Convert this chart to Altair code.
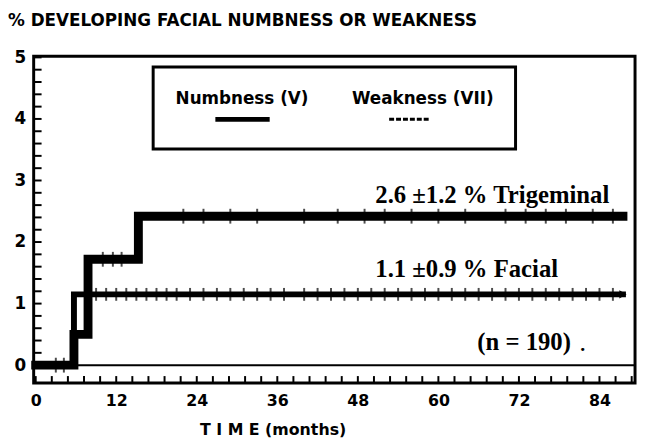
import altair as alt
import pandas as pd

# Kaplan-Meier style step curves (months, %)
num_t = [0, 5.7, 7.8, 15.3, 87.5]
num_v = [0, 0.5, 1.72, 2.42, 2.42]
fac_t = [0, 5.7, 87.5]
fac_v = [0, 1.15, 1.15]

# censoring marks (months)
num_censor = [3, 4.2, 10, 11.5, 12.8, 22, 25, 29, 33, 40, 45, 49, 52, 56, 60, 64, 70, 73, 76, 79, 83, 86]
fac_censor = [9, 10.5, 12, 13.5, 15, 16.5, 18, 19.5, 21, 23, 25, 27, 29, 31, 33, 35, 37, 40, 42, 44,
              46, 48, 50, 52, 54, 56, 58, 60, 62, 64, 66, 68, 70, 72, 74, 76, 78, 80, 82, 84, 86]

y_labels = [0, 1, 2, 3, 4, 5]
x_labels = [0, 12, 24, 36, 48, 60, 72, 84]
y_minor = [round(i * 0.2, 1) for i in range(0, 26)]
x_minor = [round(i * 2.4, 1) for i in range(0, 38)]

title = "% DEVELOPING FACIAL NUMBNESS OR WEAKNESS"
ann = pd.DataFrame({
    "t": [50.6, 50.6, 65.8],
    "v": [2.77, 1.56, 0.38],
    "label": ["2.6 \u00b11.2 % Trigeminal", "1.1 \u00b10.9 % Facial", "(n = 190)"],
})

W, H = 609, 331
xs = alt.Scale(domain=[-0.3, 89.3], nice=False, zero=False)
ys = alt.Scale(domain=[-0.29, 5.02], nice=False, zero=False)

num_df = pd.DataFrame({"t": num_t, "v": num_v})
fac_df = pd.DataFrame({"t": fac_t, "v": fac_v})
one = pd.DataFrame({"a": [0]})

x_enc = alt.X("t:Q", scale=xs, axis=alt.Axis(
    values=x_labels, title="T I M E (months)", grid=False, domain=False, ticks=False, format="d",
    labelFont="DejaVu Sans", labelFontWeight="bold", labelFontSize=16, labelPadding=10,
    labelColor="black", titleFont="DejaVu Sans", titleFontWeight="bold", titleFontSize=16,
    titleColor="black", titleX=242, titleY=47, titleBaseline="middle", titleAnchor="middle"))
y_enc = alt.Y("v:Q", scale=ys, axis=alt.Axis(
    values=y_labels, title=None, grid=False, domain=False, ticks=False, format="d",
    labelFont="DejaVu Sans", labelFontWeight="bold", labelFontSize=17, labelPadding=8,
    labelColor="black"))

zero_line = alt.Chart(one).mark_rule(color="black", strokeWidth=2).encode(
    y=alt.Y("z:Q", scale=ys), x=alt.value(0), x2=alt.value(W)
).transform_calculate(z="0")

yt = pd.DataFrame({"v": y_minor})
y_ticks = alt.Chart(yt).mark_rule(color="black", strokeWidth=2).encode(
    y=alt.Y("v:Q", scale=ys), x=alt.value(0), x2=alt.value(8))

xt = pd.DataFrame({"t": [t for t in x_minor if t < 89]})
x_ticks = alt.Chart(xt).mark_rule(color="black", strokeWidth=2).encode(
    x=alt.X("t:Q", scale=xs), y=alt.value(H), y2=alt.value(H - 7))

num_line = alt.Chart(num_df).mark_line(color="black", strokeWidth=9, interpolate="step-after",
                                       strokeCap="square").encode(x=x_enc, y=y_enc)
fac_line = alt.Chart(fac_df).mark_line(color="black", strokeWidth=6, interpolate="step-after",
                                       strokeCap="square").encode(x=alt.X("t:Q", scale=xs), y=alt.Y("v:Q", scale=ys))

num_c = alt.Chart(pd.DataFrame({"t": num_censor, "v": [0 if t < 5.7 else (1.72 if t < 15.3 else 2.42) for t in num_censor]})
                  ).mark_tick(orient="vertical", color="black", size=15, thickness=2).encode(
    x=alt.X("t:Q", scale=xs), y=alt.Y("v:Q", scale=ys))
fac_c = alt.Chart(pd.DataFrame({"t": fac_censor, "v": [1.15] * len(fac_censor)})
                  ).mark_tick(orient="vertical", color="black", size=13, thickness=2).encode(
    x=alt.X("t:Q", scale=xs), y=alt.Y("v:Q", scale=ys))

ends = alt.Chart(pd.DataFrame({"t": [87.5, 87.5], "v": [2.42, 1.15]})).mark_point(
    shape="triangle-right", filled=True, color="black", size=70, opacity=1).encode(
    x=alt.X("t:Q", scale=xs), y=alt.Y("v:Q", scale=ys))

ann_text = alt.Chart(ann).mark_text(align="left", baseline="middle", font="Liberation Serif",
                                    fontWeight="bold", fontSize=25, color="black").encode(
    x=alt.X("t:Q", scale=xs), y=alt.Y("v:Q", scale=ys), text="label:N")

dot = alt.Chart(one).mark_text(text=".", font="Liberation Serif", fontWeight="bold", fontSize=20,
                               color="black").encode(x=alt.value(556), y=alt.value(293))

# legend box
box = alt.Chart(one).mark_rect(fill="white", stroke="black", strokeWidth=3).encode(
    x=alt.value(121), x2=alt.value(488), y=alt.value(11), y2=alt.value(94))
leg_txt = alt.Chart(pd.DataFrame({"lab": ["Numbness (V)", "Weakness (VII)"], "px": [211, 394]})).mark_text(
    font="DejaVu Sans", fontWeight="bold", fontSize=17, color="black", baseline="middle").encode(
    x=alt.X("px:Q", scale=None), y=alt.value(43), text="lab:N")
leg_num = alt.Chart(one).mark_rule(color="black", strokeWidth=5).encode(
    x=alt.value(184), x2=alt.value(239), y=alt.value(64))
leg_fac = alt.Chart(one).mark_rule(color="black", strokeWidth=3, strokeDash=[5, 2]).encode(
    x=alt.value(360), x2=alt.value(402), y=alt.value(64))

title_txt = alt.Chart(one).mark_text(text=title, align="left", baseline="middle", font="DejaVu Sans",
                                     fontWeight="bold", fontSize=17, color="black").encode(
    x=alt.value(-26), y=alt.value(-36))

chart = alt.layer(
    num_line, zero_line, fac_line, num_c, fac_c, ends, y_ticks, x_ticks,
    ann_text, dot, box, leg_txt, leg_num, leg_fac, title_txt
).properties(
    width=W, height=H, autosize=alt.AutoSizeParams(type="none"),
    padding={"left": 26, "top": 46, "right": 3, "bottom": 58}, background="white"
).configure_view(stroke="black", strokeWidth=3)

chart.save("out.html", embed_options={"renderer": "svg", "actions": False})
